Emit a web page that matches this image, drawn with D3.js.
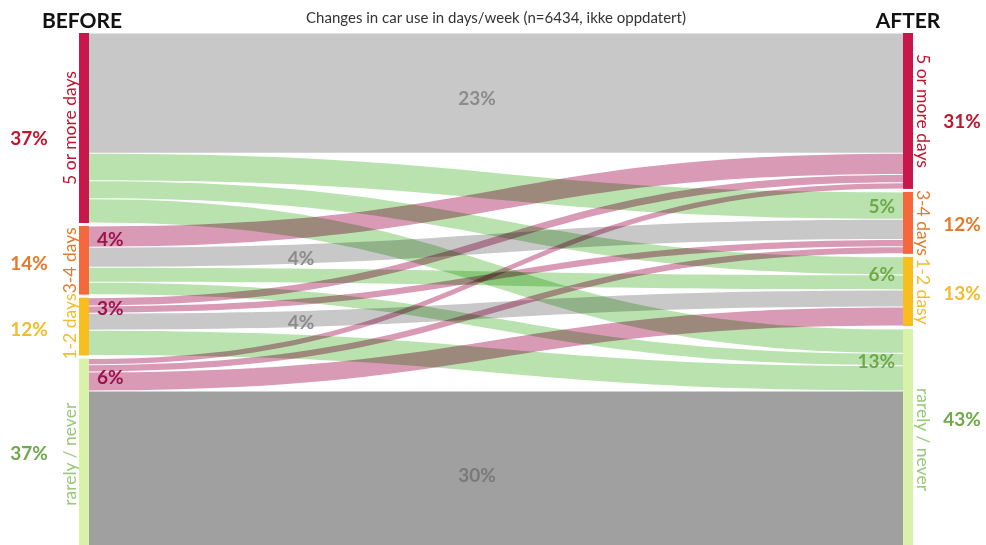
<!DOCTYPE html>
<html>
<head>
<meta charset="utf-8">
<script src="https://cdn.jsdelivr.net/npm/d3@7"></script>
<style>
  body { margin: 0; background: #fff; }
  svg { display: block; font-family: Lato, "Open Sans", sans-serif; }
  .flow { mix-blend-mode: multiply; }
</style>
</head>
<body>
<div id="chart"></div>
<script>
// categories, top to bottom
const beforeNames = ["5 or more days", "3-4 days", "1-2 days", "rarely / never"];
const afterNames = ["5 or more days", "3-4 days", "1-2 dasy", "rarely / never"];
const beforeShares = ["37%", "14%", "12%", "37%"];
const afterShares = ["31%", "12%", "13%", "43%"];

// flows (% of respondents) from each BEFORE group to the AFTER groups
const from5plus = [23.3, 5.3, 3.5, 4.7];
const from34 = [4.1, 3.9, 2.9, 2.4];
const from12 = [1.6, 1.4, 3.3, 4.9];
const fromRarely = [1.2, 1.4, 3.7, 30.8];

// printed flow labels
const stayLabels = ["23%", "4%", "4%", "30%"];
const upLabels = ["", "4%", "3%", "6%"];
const downLabels = ["", "5%", "6%", "13%"];

const catColors = ["#c8174b", "#f4683b", "#f8be1e", "#d9f2aa"];
const shareColors = ["#c0162e", "#e57a2c", "#f0bd2e", "#6fa94a"];
const nameColors = ["#c0162e", "#e57a2c", "#f0bd2e", "#98c87a"];

const width = 986, height = 545;
const topY = 33, gap = 3, nodeW = 10;
// nudges for the share labels beside the bars
const leftShareShift = [10, 3, 3, -1];
const rightShareShift = [10, 1, 2, -20];

const matrix = [from5plus, from34, from12, fromRarely];
const total = d3.sum(matrix, r => d3.sum(r));

const x = d3.scalePoint().domain(["before", "after"]).range([84, 908]);
const y = d3.scaleLinear().domain([0, total]).range([0, 508]);

const svg = d3.select("#chart").append("svg")
  .attr("width", width)
  .attr("height", height);

// node extents
const beforeVals = matrix.map(r => d3.sum(r));
const afterVals = [0, 1, 2, 3].map(j => d3.sum(matrix, r => r[j]));

function layout(vals) {
  let y0 = topY;
  return vals.map(v => {
    const n = { y0: y0, y1: y0 + y(v) };
    y0 = n.y1 + gap;
    return n;
  });
}
const leftNodes = layout(beforeVals);
const rightNodes = layout(afterVals);

// links
const links = [];
const leftCursor = leftNodes.map(n => n.y0);
const rightCursor = rightNodes.map(n => n.y0);
matrix.forEach((row, i) => {
  row.forEach((v, j) => {
    const h = y(v);
    links.push({ i, j, v, ly0: leftCursor[i], ly1: leftCursor[i] + h, ry0: 0, ry1: 0 });
    leftCursor[i] += h;
  });
});
for (let j = 0; j < 4; j++) {
  links.filter(l => l.j === j).sort((a, b) => a.i - b.i).forEach(l => {
    const h = y(l.v);
    l.ry0 = rightCursor[j];
    l.ry1 = rightCursor[j] + h;
    rightCursor[j] += h;
  });
}

const x0 = x("before") + nodeW / 2;
const x1 = x("after") - nodeW / 2;
const xm = (x0 + x1) / 2;
const inset = 0.5;

function ribbon(l) {
  const p = d3.path();
  const a0 = l.ly0 + inset, a1 = l.ly1 - inset;
  const b0 = l.ry0 + inset, b1 = l.ry1 - inset;
  p.moveTo(x0, a0);
  p.bezierCurveTo(xm, a0, xm, b0, x1, b0);
  p.lineTo(x1, b1);
  p.bezierCurveTo(xm, b1, xm, a1, x0, a1);
  p.closePath();
  return p.toString();
}

function flowColor(l) {
  if (l.i === l.j) return l.i === 3 ? "#a0a0a0" : "#c8c8c8";
  return l.j > l.i ? "#b9e2af" : "#d99ab5";
}

svg.append("g").selectAll("path")
  .data(links)
  .join("path")
  .attr("class", "flow")
  .attr("d", ribbon)
  .attr("fill", flowColor);

// node bars
svg.append("g").selectAll("rect")
  .data(leftNodes)
  .join("rect")
  .attr("x", x("before") - nodeW / 2)
  .attr("y", d => d.y0)
  .attr("width", nodeW)
  .attr("height", d => d.y1 - d.y0)
  .attr("fill", (d, i) => catColors[i]);

svg.append("g").selectAll("rect")
  .data(rightNodes)
  .join("rect")
  .attr("x", x("after") - nodeW / 2)
  .attr("y", d => d.y0)
  .attr("width", nodeW)
  .attr("height", d => d.y1 - d.y0)
  .attr("fill", (d, i) => catColors[i]);

// rotated category names
svg.append("g").selectAll("text")
  .data(leftNodes)
  .join("text")
  .attr("transform", d => `translate(${x("before") - nodeW / 2 - 3},${(d.y0 + d.y1) / 2}) rotate(-90)`)
  .attr("text-anchor", "middle")
  .attr("font-size", 17.5)
  .attr("fill", (d, i) => nameColors[i])
  .text((d, i) => beforeNames[i]);

svg.append("g").selectAll("text")
  .data(rightNodes)
  .join("text")
  .attr("transform", d => `translate(${x("after") + nodeW / 2 + 4},${(d.y0 + d.y1) / 2}) rotate(90)`)
  .attr("text-anchor", "middle")
  .attr("font-size", 17.5)
  .attr("fill", (d, i) => nameColors[i])
  .text((d, i) => afterNames[i]);

// shares
svg.append("g").selectAll("text")
  .data(leftNodes)
  .join("text")
  .attr("x", 29)
  .attr("y", (d, i) => (d.y0 + d.y1) / 2 + leftShareShift[i])
  .attr("dy", "0.35em")
  .attr("text-anchor", "middle")
  .attr("font-size", 19)
  .attr("font-weight", 700)
  .attr("fill", (d, i) => shareColors[i])
  .text((d, i) => beforeShares[i]);

svg.append("g").selectAll("text")
  .data(rightNodes)
  .join("text")
  .attr("x", 962)
  .attr("y", (d, i) => (d.y0 + d.y1) / 2 + rightShareShift[i])
  .attr("dy", "0.35em")
  .attr("text-anchor", "middle")
  .attr("font-size", 19)
  .attr("font-weight", 700)
  .attr("fill", (d, i) => shareColors[i])
  .text((d, i) => afterShares[i]);

// flow labels
const stays = links.filter(l => l.i === l.j);
svg.append("g").selectAll("text")
  .data(stays)
  .join("text")
  .attr("x", d => (d.i === 0 || d.i === 3) ? 477 : 301)
  .attr("y", d => (d.ly0 + d.ly1) / 2 + ((d.i === 0 || d.i === 3) ? 5 : 1))
  .attr("dy", "0.35em")
  .attr("text-anchor", "middle")
  .attr("font-size", 19)
  .attr("font-weight", 700)
  .attr("fill", d => d.i === 3 ? "#7a7a7a" : "#8c8c8c")
  .text(d => stayLabels[d.i]);

svg.append("g").selectAll("text")
  .data([1, 2, 3])
  .join("text")
  .attr("x", x0 + 8)
  .attr("y", i => {
    const ls = links.filter(l => l.i === i && l.j < i);
    return (d3.min(ls, l => l.ly0) + d3.max(ls, l => l.ly1)) / 2 + 3;
  })
  .attr("dy", "0.35em")
  .attr("font-size", 19)
  .attr("font-weight", 700)
  .attr("fill", "#9a1450")
  .text(i => upLabels[i]);

svg.append("g").selectAll("text")
  .data([1, 2, 3])
  .join("text")
  .attr("x", x1 - 8)
  .attr("y", j => {
    const ls = links.filter(l => l.j === j && l.i < j);
    return (d3.min(ls, l => l.ry0) + d3.max(ls, l => l.ry1)) / 2 + 1;
  })
  .attr("dy", "0.35em")
  .attr("text-anchor", "end")
  .attr("font-size", 19)
  .attr("font-weight", 700)
  .attr("fill", "#6fa94a")
  .text(j => downLabels[j]);

// headings
svg.append("text")
  .attr("x", 82).attr("y", 28)
  .attr("text-anchor", "middle")
  .attr("font-size", 21).attr("font-weight", 700)
  .attr("fill", "#111")
  .text("BEFORE");

svg.append("text")
  .attr("x", 908).attr("y", 28)
  .attr("text-anchor", "middle")
  .attr("font-size", 21).attr("font-weight", 700)
  .attr("fill", "#111")
  .text("AFTER");

svg.append("text")
  .attr("x", 496).attr("y", 23)
  .attr("text-anchor", "middle")
  .attr("font-size", 15)
  .attr("fill", "#333")
  .text("Changes in car use in days/week (n=6434, ikke oppdatert)");
</script>
</body>
</html>
